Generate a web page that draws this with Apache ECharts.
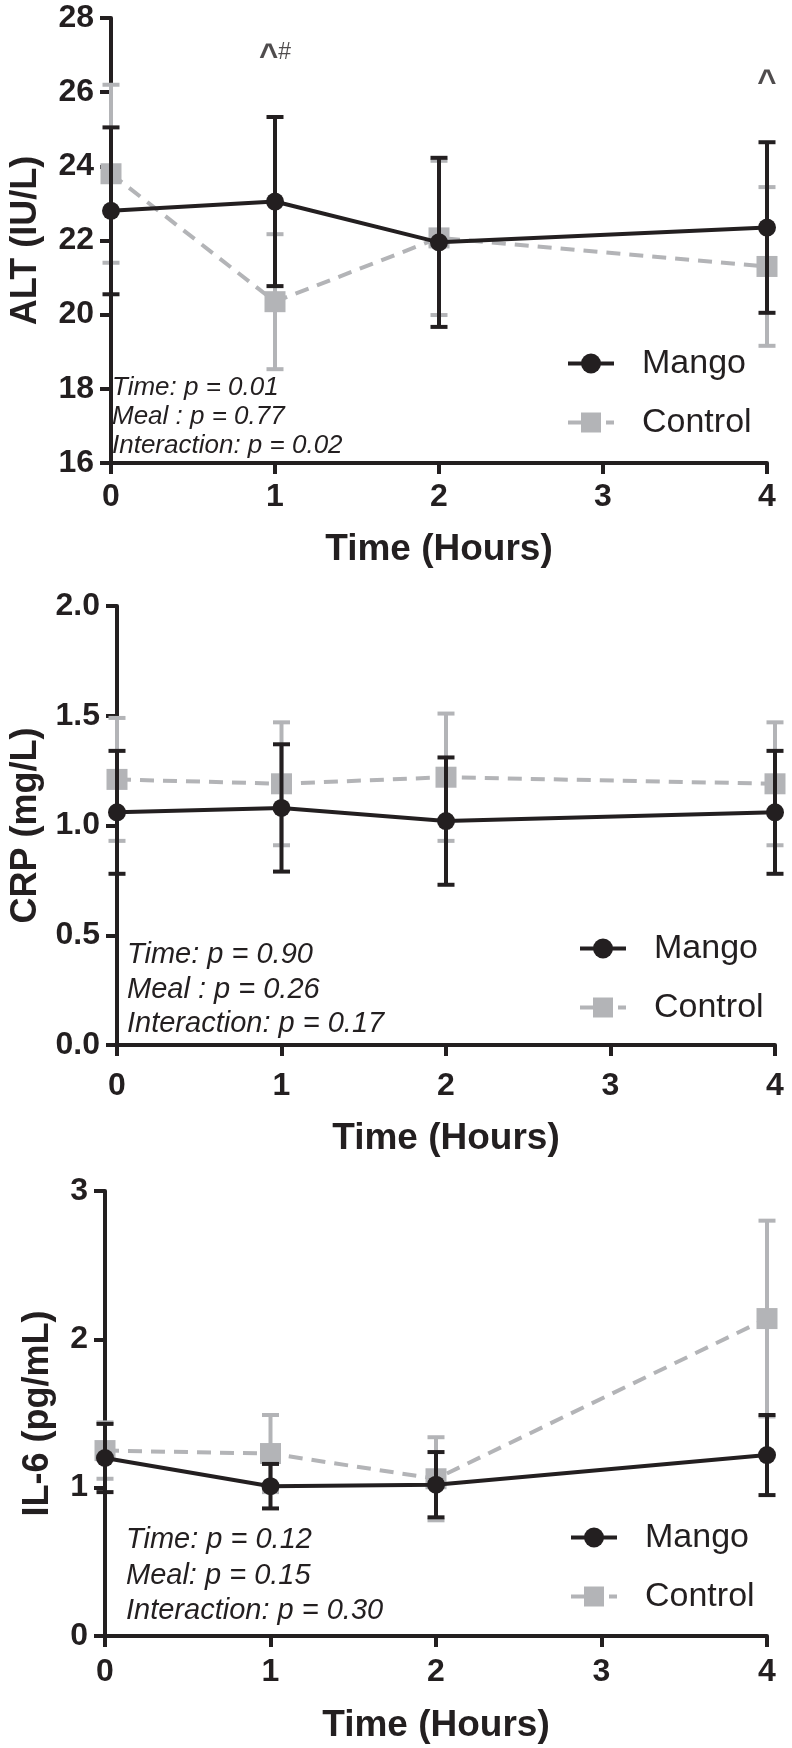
<!DOCTYPE html>
<html>
<head>
<meta charset="utf-8">
<script src="https://cdn.jsdelivr.net/npm/echarts@6/dist/echarts.min.js"></script>
<style>
  html, body { margin: 0; padding: 0; background: #ffffff; }
  #chart { width: 792px; height: 1748px; }
</style>
</head>
<body>
<div id="chart"></div>
<script>
// ---------------- data ----------------
const hours = [0, 1, 2, 4];
const xTicks = [0, 1, 2, 3, 4];

const altMango     = [22.8, 23.05, 21.95, 22.35];
const altMangoSD   = [2.25, 2.28, 2.28, 2.30];
const altControl   = [23.8, 20.35, 22.07, 21.3];
const altControlSD = [2.40, 1.82, 2.08, 2.14];

const crpMango     = [1.06, 1.08, 1.02, 1.06];
const crpMangoSD   = [0.28, 0.29, 0.29, 0.28];
const crpControl   = [1.21, 1.19, 1.22, 1.19];
const crpControlSD = [0.28, 0.28, 0.29, 0.28];

const il6Mango     = [1.20, 1.01, 1.02, 1.22];
const il6MangoSD   = [0.23, 0.15, 0.22, 0.27];
const il6Control   = [1.25, 1.23, 1.06, 2.14];
const il6ControlSD = [0.19, 0.26, 0.28, 0.66];

const altAnnotHours  = [1, 4];
const altAnnotValues = [26.94, 26.24];
const altAnnotText   = ['^#', '^'];

const yTitles = ['ALT (IU/L)', 'CRP (mg/L)', 'IL-6 (pg/mL)'];
const xTitle = 'Time (Hours)';
const statsText = [
  ['Time: p = 0.01', 'Meal : p = 0.77', 'Interaction: p = 0.02'],
  ['Time: p = 0.90', 'Meal : p = 0.26', 'Interaction: p = 0.17'],
  ['Time: p = 0.12', 'Meal: p = 0.15', 'Interaction: p = 0.30']
];
const legendNames = ['Mango', 'Control'];

// ---------------- style ----------------
const BLACK = '#231f20';
const GRAY = '#b3b4b7';
const FONT = "'Liberation Sans', Arial, sans-serif";

const panels = [
  { grid: { left: 105, top: 18, width: 662, height: 445 }, y: { min: 16, max: 28, interval: 2, dec: 0 },
    mango: altMango, mangoSD: altMangoSD, control: altControl, controlSD: altControlSD,
    yGap: 67, xGap: 68, xMargin: 18, legend: { left: 561, top: 340 }, stats: { x: 112, y: [388, 417, 446], size: 26 } },
  { grid: { left: 113, top: 606, width: 662, height: 439 }, y: { min: 0, max: 2, interval: 0.5, dec: 1 },
    mango: crpMango, mangoSD: crpMangoSD, control: crpControl, controlSD: crpControlSD,
    yGap: 73, xGap: 75, xMargin: 25, legend: { left: 573, top: 925 }, stats: { x: 127, y: [955, 990, 1024], size: 29 } },
  { grid: { left: 105, top: 1191, width: 662, height: 445 }, y: { min: 0, max: 3, interval: 1, dec: 0 },
    mango: il6Mango, mangoSD: il6MangoSD, control: il6Control, controlSD: il6ControlSD,
    yGap: 49, xGap: 71, xMargin: 20, legend: { left: 564, top: 1514 }, stats: { x: 126, y: [1540, 1576, 1611], size: 29 } }
];

function pairs(vals) { return hours.map((h, i) => [h, vals[i]]); }
function triples(vals, sds) { return hours.map((h, i) => [h, vals[i], sds[i]]); }

function errRender(color) {
  return function (params, api) {
    const x = api.value(0), m = api.value(1), s = api.value(2);
    const top = api.coord([x, m + s]);
    const bot = api.coord([x, m - s]);
    const hw = 8.5;
    const style = { stroke: color, lineWidth: 4, fill: null };
    return {
      type: 'group',
      children: [
        { type: 'line', shape: { x1: top[0], y1: top[1], x2: bot[0], y2: bot[1] }, style: style },
        { type: 'line', shape: { x1: top[0] - hw, y1: top[1], x2: top[0] + hw, y2: top[1] }, style: style },
        { type: 'line', shape: { x1: bot[0] - hw, y1: bot[1], x2: bot[0] + hw, y2: bot[1] }, style: style }
      ]
    };
  };
}

const grids = [], xAxes = [], yAxes = [], series = [], legends = [], graphics = [];

panels.forEach((p, i) => {
  grids.push(Object.assign({ containLabel: false }, p.grid));
  xAxes.push({
    type: 'value', gridIndex: i, min: xTicks[0], max: xTicks[xTicks.length - 1], interval: 1,
    name: xTitle, nameLocation: 'middle', nameGap: p.xGap,
    nameTextStyle: { fontFamily: FONT, fontWeight: 'bold', fontSize: 37, color: BLACK },
    axisLine: { onZero: false, lineStyle: { color: BLACK, width: 4 } },
    axisTick: { show: true, length: 11, lineStyle: { color: BLACK, width: 4 } },
    axisLabel: { margin: p.xMargin, fontFamily: FONT, fontWeight: 'bold', fontSize: 32, color: BLACK },
    splitLine: { show: false }
  });
  yAxes.push({
    type: 'value', gridIndex: i, min: p.y.min, max: p.y.max, interval: p.y.interval,
    name: yTitles[i], nameLocation: 'middle', nameGap: p.yGap,
    nameTextStyle: { fontFamily: FONT, fontWeight: 'bold', fontSize: 36, color: BLACK },
    axisLine: { onZero: false, lineStyle: { color: BLACK, width: 4 } },
    axisTick: { show: true, length: 11, lineStyle: { color: BLACK, width: 4 } },
    axisLabel: { margin: 17, fontFamily: FONT, fontWeight: 'bold', fontSize: 32, color: BLACK,
      formatter: (v) => v.toFixed(p.y.dec) },
    splitLine: { show: false }
  });

  series.push({
    type: 'custom', name: 'Control SD', xAxisIndex: i, yAxisIndex: i,
    renderItem: errRender(GRAY), encode: { x: 0, y: 1 },
    data: triples(p.control, p.controlSD), z: 2, silent: true
  });
  series.push({
    type: 'line', name: 'Control', xAxisIndex: i, yAxisIndex: i,
    data: pairs(p.control), symbol: 'rect', symbolSize: 21, showSymbol: true,
    lineStyle: { color: GRAY, width: 4, type: [14, 9] },
    itemStyle: { color: GRAY }, z: 3, animation: false
  });
  series.push({
    type: 'custom', name: 'Mango SD', xAxisIndex: i, yAxisIndex: i,
    renderItem: errRender(BLACK), encode: { x: 0, y: 1 },
    data: triples(p.mango, p.mangoSD), z: 4, silent: true
  });
  series.push({
    type: 'line', name: 'Mango', xAxisIndex: i, yAxisIndex: i,
    data: pairs(p.mango), symbol: 'circle', symbolSize: 18, showSymbol: true,
    lineStyle: { color: BLACK, width: 4 },
    itemStyle: { color: BLACK }, z: 5, animation: false
  });

  legends.push({
    left: p.legend.left, top: p.legend.top, orient: 'vertical',
    itemWidth: 46, itemHeight: 25, itemGap: 22, selectedMode: false,
    data: [
      { name: legendNames[0], itemStyle: { color: BLACK }, lineStyle: { color: BLACK, width: 4, type: 'solid' } },
      { name: legendNames[1], itemStyle: { color: GRAY }, lineStyle: { color: GRAY, width: 4, type: [13, 6] } }
    ],
    textStyle: { fontFamily: FONT, fontSize: 34, color: BLACK, lineHeight: 37, padding: [0, 0, 0, 23] }
  });

  p.stats.y.forEach((yy, k) => {
    graphics.push({
      type: 'text', left: p.stats.x, top: yy - p.stats.size / 2,
      style: { text: statsText[i][k], fontFamily: FONT, fontStyle: 'italic', fontSize: p.stats.size, fill: BLACK }
    });
  });
});

// significance annotations for ALT panel
series.push({
  type: 'scatter', name: 'annot', xAxisIndex: 0, yAxisIndex: 0,
  data: altAnnotHours.map((h, i) => [h, altAnnotValues[i]]),
  symbolSize: 0, silent: true, z: 6,
  label: {
    show: true, position: 'inside',
    formatter: (prm) => {
      const t = altAnnotText[prm.dataIndex];
      return t.length > 1 ? '{a|' + t[0] + '}{b|' + t.slice(1) + '}' : '{a|' + t + '}';
    },
    rich: {
      a: { fontFamily: FONT, fontWeight: 'bold', fontSize: 33, color: BLACK },
      b: { fontFamily: FONT, fontSize: 23, color: BLACK, verticalAlign: 'top', padding: [0, 0, 8, 0] }
    }
  }
});

const chart = echarts.init(document.getElementById('chart'), null, { renderer: 'canvas' });
chart.setOption({
  animation: false,
  backgroundColor: '#ffffff',
  grid: grids,
  xAxis: xAxes,
  yAxis: yAxes,
  legend: legends,
  series: series,
  graphic: graphics
});
</script>
</body>
</html>
